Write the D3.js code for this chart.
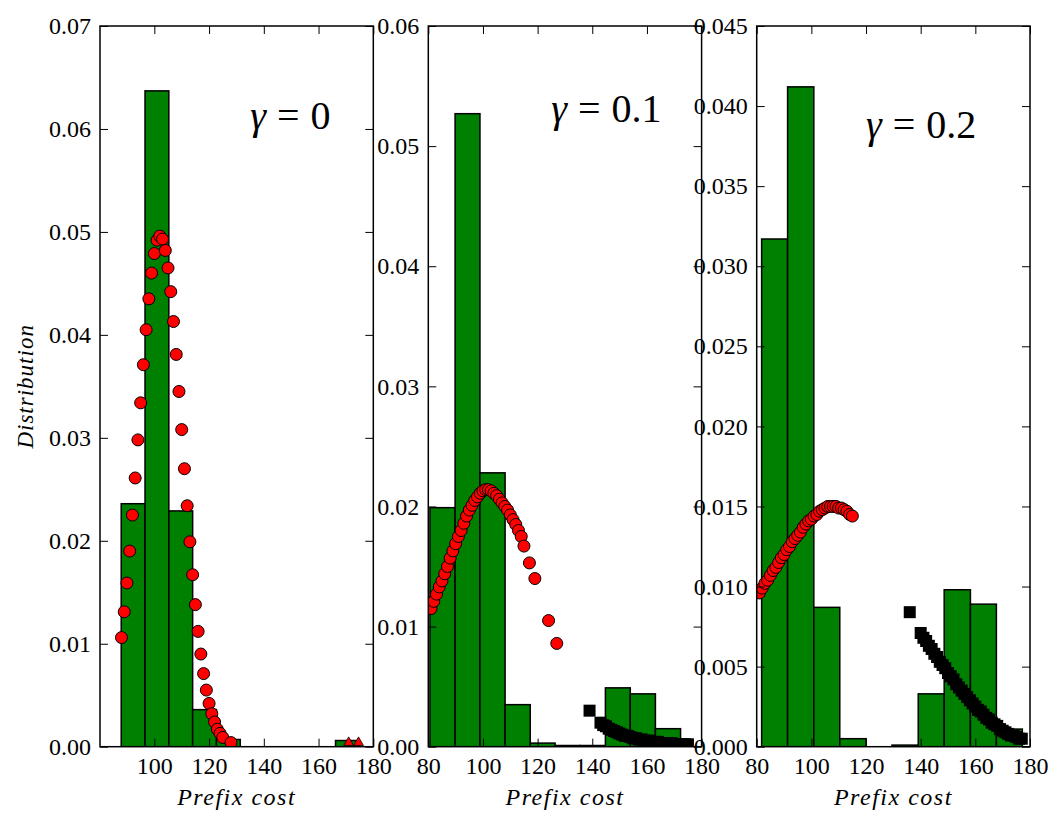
<!DOCTYPE html>
<html>
<head>
<meta charset="utf-8">
<script src="https://cdn.jsdelivr.net/npm/d3@7"></script>
<style>
  body { margin: 0; background: #fff; }
  text { font-family: "Liberation Serif", "DejaVu Serif", serif; }
</style>
</head>
<body>
<div id="chart"></div>
<script>
const width = 1064;
const height = 827;

// ---- gamma = 0 ----
const histEdges0 = [87.9, 96.6, 105.3, 114.0, 122.7, 131.4, 140.1, 148.8, 157.5, 166.2, 174.9];
const histVals0 = [0.0236, 0.0637, 0.0229, 0.0036, 0.0007, 0, 0, 0, 0, 0.0006];
const redX0 = [88, 89, 90, 91, 92, 93, 94, 95, 96, 97, 98, 99, 100, 101, 102, 103, 104, 105, 106, 107,
    108, 109, 110, 111, 112, 113, 114, 115, 116, 117, 118, 119, 120, 121, 122, 123, 124, 125, 128];
const redY0 = [0.0106, 0.0131, 0.0159, 0.0190, 0.0225, 0.0261, 0.0298, 0.0334, 0.0371, 0.0405,
    0.0435, 0.0460, 0.0479, 0.0492, 0.0496, 0.0493, 0.0482, 0.0465, 0.0442, 0.0413,
    0.0381, 0.0345, 0.0308, 0.0270, 0.0234, 0.0199, 0.0167, 0.0138, 0.0112, 0.0090,
    0.0071, 0.0055, 0.0042, 0.0032, 0.0024, 0.0017, 0.0013, 0.0009, 0.0004];
const triX0 = [171, 174.6];
const triY0 = [0.0004, 0.0004];

// ---- gamma = 0.1 ----
const histEdges1 = [80.6, 89.8, 98.9, 108.1, 117.3, 126.4, 135.6, 144.8, 153.9, 163.1, 172.3];
const histVals1 = [0.0199, 0.0527, 0.0228, 0.0035, 0.0003, 0.0001, 0.0001, 0.0049, 0.0044, 0.0015];
const redX1 = [81, 82, 83, 84, 85, 86, 87, 88, 89, 90, 91, 92, 93, 94, 95, 96, 97, 98, 99, 100,
    101, 102, 103, 104, 105, 106, 107, 108, 109, 110, 111, 112, 113, 114, 115, 117, 119, 124, 127];
const redY1 = [0.0115, 0.0121, 0.0127, 0.0133, 0.0138, 0.0144, 0.0150, 0.0157, 0.0163, 0.0169,
    0.0175, 0.0180, 0.0186, 0.0192, 0.0197, 0.0201, 0.0205, 0.0208, 0.0211, 0.0213,
    0.0214, 0.0214, 0.0213, 0.0211, 0.0209, 0.0206, 0.0203, 0.0200, 0.0197, 0.0193,
    0.0189, 0.0185, 0.0180, 0.0175, 0.0167, 0.0153, 0.0140, 0.0105, 0.0086];
const blackX1 = [139, 143, 144, 145, 146, 147, 148, 149, 150, 151, 152, 153, 154, 155, 156, 157, 158,
    159, 160, 161, 162, 163, 164, 165, 166, 167, 168, 169, 170, 171, 172, 173, 174, 175];
const blackY1 = [0.0030, 0.0020, 0.0018, 0.0017, 0.0015, 0.0014, 0.0013, 0.0012, 0.0011, 0.0010,
    0.0009, 0.0009, 0.0008, 0.0007, 0.0007, 0.0006, 0.0006, 0.0005, 0.0005, 0.0005,
    0.0004, 0.0004, 0.0004, 0.0003, 0.0003, 0.0003, 0.0003, 0.0003, 0.0002, 0.0002,
    0.0002, 0.0002, 0.0002, 0.0002];

// ---- gamma = 0.2 ----
const histEdges2 = [81.8, 91.3, 100.9, 110.4, 120.0, 129.5, 139.1, 148.6, 158.2, 167.7, 177.2];
const histVals2 = [0.0317, 0.0412, 0.0087, 0.0005, 0, 0.0001, 0.0033, 0.0098, 0.0089, 0.0011];
const redX2 = [81, 82, 83, 84, 85, 86, 87, 88, 89, 90, 91, 92, 93, 94, 95, 96, 97, 98, 99, 100,
    101, 102, 103, 104, 105, 106, 107, 108, 109, 110, 111, 112, 113, 114, 115];
const redY2 = [0.0096, 0.0099, 0.0102, 0.0104, 0.0107, 0.0110, 0.0112, 0.0115, 0.0118, 0.0120,
    0.0123, 0.0125, 0.0128, 0.0130, 0.0132, 0.0134, 0.0137, 0.0139, 0.0141, 0.0142,
    0.0144, 0.0145, 0.0147, 0.0148, 0.0149, 0.0150, 0.0150, 0.0150, 0.0150, 0.0149,
    0.0149, 0.0148, 0.0147, 0.0145, 0.0144];
const blackX2 = [136, 140, 141, 142, 143, 144, 145, 146, 147, 148, 149, 150, 151, 152, 153, 154, 155,
    156, 157, 158, 159, 160, 161, 162, 163, 164, 165, 166, 167, 168, 169, 170, 171, 172, 173,
    174, 175, 176, 177];
const blackY2 = [0.0084, 0.0071, 0.0068, 0.0066, 0.0063, 0.0061, 0.0058, 0.0056, 0.0053, 0.0051,
    0.0049, 0.0046, 0.0044, 0.0042, 0.0039, 0.0037, 0.0035, 0.0033, 0.0031, 0.0029,
    0.0027, 0.0025, 0.0023, 0.0022, 0.0020, 0.0018, 0.0017, 0.0015, 0.0014, 0.0013,
    0.0011, 0.0010, 0.0009, 0.0008, 0.0007, 0.0007, 0.0006, 0.0005, 0.0005];

// ticks and labels
const xTicks0 = [100, 120, 140, 160, 180];
const xTicks = [80, 100, 120, 140, 160, 180];
const yTicks0 = [0, 0.01, 0.02, 0.03, 0.04, 0.05, 0.06, 0.07];
const yTicks1 = [0, 0.01, 0.02, 0.03, 0.04, 0.05, 0.06];
const yTicks2 = [0, 0.005, 0.01, 0.015, 0.02, 0.025, 0.03, 0.035, 0.04, 0.045];
const gammaValues = ["0", "0.1", "0.2"];

const serif = '"Liberation Serif", "DejaVu Serif", serif';

const svg = d3.select("#chart")
    .append("svg")
    .attr("width", width)
    .attr("height", height);

const plotTop = 26;
const plotBottom = 746.7;
const panelW = 273.3;

const panels = [
    { left: 100, xmin: 80.15, xticks: xTicks0, ymax: 0.07, yticks: yTicks0, fmt: ".2f",
      edges: histEdges0, vals: histVals0, red: [redX0, redY0], black: null, tri: [triX0, triY0],
      gamma: gammaValues[0], labelAt: [135, 0.06] },
    { left: 428.3, xmin: 80, xticks: xTicks, ymax: 0.06, yticks: yTicks1, fmt: ".2f",
      edges: histEdges1, vals: histVals1, red: [redX1, redY1], black: [blackX1, blackY1], tri: null,
      gamma: gammaValues[1], labelAt: [125, 0.052] },
    { left: 756.7, xmin: 80, xticks: xTicks, ymax: 0.045, yticks: yTicks2, fmt: ".3f",
      edges: histEdges2, vals: histVals2, red: [redX2, redY2], black: [blackX2, blackY2], tri: null,
      gamma: gammaValues[2], labelAt: [120, 0.038] }
];

panels.forEach((p, i) => {
    const x = d3.scaleLinear().domain([p.xmin, 180]).range([0, panelW]);
    const y = d3.scaleLinear().domain([0, p.ymax]).range([plotBottom - plotTop, 0]);
    const h = plotBottom - plotTop;

    const g = svg.append("g").attr("transform", `translate(${p.left},${plotTop})`);

    g.append("clipPath").attr("id", "clip" + i)
        .append("rect").attr("width", panelW).attr("height", h);

    const body = g.append("g").attr("clip-path", `url(#clip${i})`);

    // histogram bars
    const bins = p.vals.map((v, k) => ({ x0: p.edges[k], x1: p.edges[k + 1], v: v }));
    body.selectAll("rect.bar")
        .data(bins)
        .enter()
        .append("rect")
        .attr("class", "bar")
        .attr("x", d => x(d.x0))
        .attr("width", d => x(d.x1) - x(d.x0))
        .attr("y", d => y(d.v))
        .attr("height", d => y(0) - y(d.v))
        .attr("fill", "#008000")
        .attr("stroke", "#000")
        .attr("stroke-width", 1.5);

    // red circles
    const redPts = p.red[0].map((xv, k) => [xv, p.red[1][k]]);
    body.selectAll("circle.red")
        .data(redPts)
        .enter()
        .append("circle")
        .attr("class", "red")
        .attr("cx", d => x(d[0]))
        .attr("cy", d => y(d[1]))
        .attr("r", 6)
        .attr("fill", "#ff0000")
        .attr("stroke", "#000")
        .attr("stroke-width", 1);

    // black squares
    if (p.black) {
        const blackPts = p.black[0].map((xv, k) => [xv, p.black[1][k]]);
        body.selectAll("rect.sq")
            .data(blackPts)
            .enter()
            .append("rect")
            .attr("class", "sq")
            .attr("x", d => x(d[0]) - 6)
            .attr("y", d => y(d[1]) - 6)
            .attr("width", 12)
            .attr("height", 12)
            .attr("fill", "#000");
    }

    // red triangles
    if (p.tri) {
        const triPts = p.tri[0].map((xv, k) => [xv, p.tri[1][k]]);
        body.selectAll("path.tri")
            .data(triPts)
            .enter()
            .append("path")
            .attr("class", "tri")
            .attr("d", d3.symbol(d3.symbolTriangle).size(42))
            .attr("transform", d => `translate(${x(d[0])},${y(d[1])})`)
            .attr("fill", "#ff0000")
            .attr("stroke", "#000")
            .attr("stroke-width", 0.8);
    }

    // axes: ticks point inward on all four sides
    const yAxis = d3.axisLeft(y).tickValues(p.yticks).tickFormat(d3.format(p.fmt))
        .tickSizeInner(-8).tickSizeOuter(0).tickPadding(9);
    const yAxisR = d3.axisRight(y).tickValues(p.yticks).tickFormat("")
        .tickSizeInner(-8).tickSizeOuter(0);
    const xAxis = d3.axisBottom(x).tickValues(p.xticks).tickFormat(d3.format("d"))
        .tickSizeInner(-8).tickSizeOuter(0).tickPadding(10);
    const xAxisT = d3.axisTop(x).tickValues(p.xticks).tickFormat("")
        .tickSizeInner(-8).tickSizeOuter(0);

    const axes = [
        g.append("g").call(yAxis),
        g.append("g").attr("transform", `translate(${panelW},0)`).call(yAxisR),
        g.append("g").attr("transform", `translate(0,${h})`).call(xAxis),
        g.append("g").call(xAxisT)
    ];
    axes.forEach(a => {
        a.select(".domain").remove();
        a.selectAll("line").attr("stroke", "#000").attr("stroke-width", 1);
        a.selectAll("text")
            .attr("fill", "#000")
            .style("font-family", serif)
            .style("font-size", "24px");
    });

    // frame
    g.append("rect")
        .attr("width", panelW)
        .attr("height", h)
        .attr("fill", "none")
        .attr("stroke", "#000")
        .attr("stroke-width", 1.5);

    // gamma annotation
    const ann = g.append("text")
        .attr("x", x(p.labelAt[0]))
        .attr("y", y(p.labelAt[1]))
        .style("font-family", serif)
        .style("font-size", "40px")
        .attr("fill", "#000");
    ann.append("tspan").style("font-style", "italic").text("γ");
    ann.append("tspan").attr("dx", 11).text("=");
    ann.append("tspan").attr("dx", 11).text(p.gamma);

    // x label
    g.append("text")
        .attr("x", panelW / 2)
        .attr("y", h + 58)
        .attr("text-anchor", "middle")
        .style("font-family", serif)
        .style("font-style", "italic")
        .style("font-size", "24px")
        .style("letter-spacing", "1.5px")
        .text("Prefix cost");
});

// y label on the first panel
svg.append("text")
    .attr("transform", `translate(33,${(plotTop + plotBottom) / 2}) rotate(-90)`)
    .attr("text-anchor", "middle")
    .style("font-family", serif)
    .style("font-style", "italic")
    .style("font-size", "23px")
    .style("letter-spacing", "1px")
    .text("Distribution");
</script>
</body>
</html>
